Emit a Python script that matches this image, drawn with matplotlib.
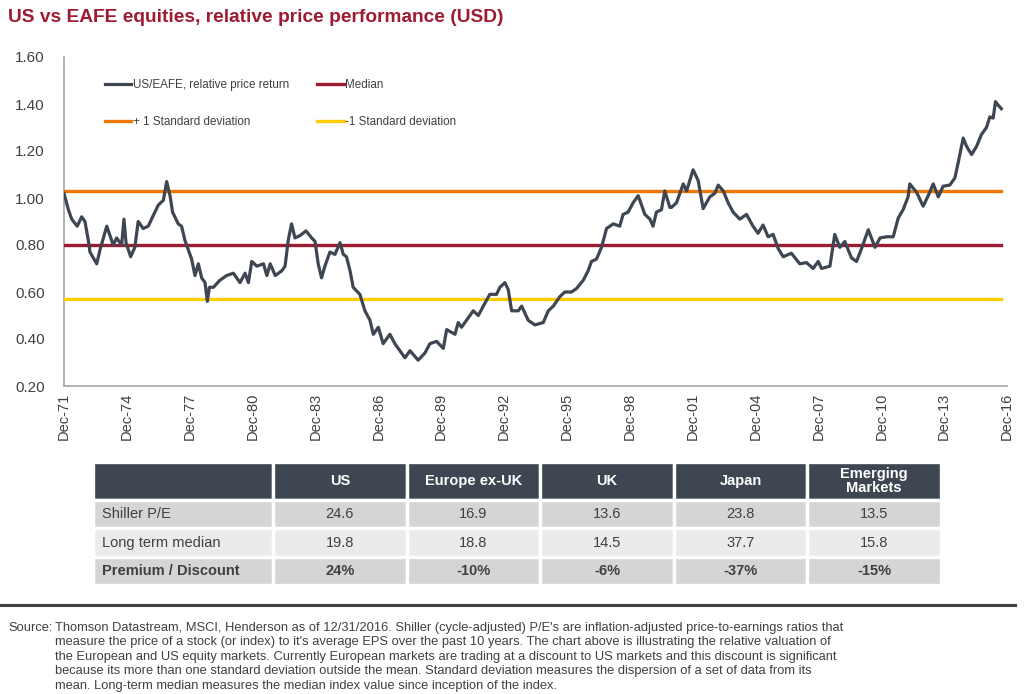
import matplotlib
matplotlib.use("Agg")
import matplotlib.pyplot as plt
from matplotlib.lines import Line2D

plt.rcParams["font.family"] = ["Liberation Sans", "DejaVu Sans"]

# relative price return, US/EAFE (decimal years)
years = [
    1971.92, 1972.13, 1972.29, 1972.55, 1972.76, 1972.92, 1973.08, 1973.16,
    1973.48, 1973.64, 1973.96, 1974.27, 1974.43, 1974.67, 1974.78, 1974.88,
    1975.10, 1975.30, 1975.46, 1975.70, 1975.94, 1976.15, 1976.42, 1976.66,
    1976.82, 1976.98, 1977.10, 1977.37, 1977.53, 1977.69, 1977.85, 1978.01,
    1978.17, 1978.33, 1978.49, 1978.65, 1978.76, 1978.86, 1979.05, 1979.36,
    1979.68, 1980.00, 1980.32, 1980.56, 1980.72, 1980.88, 1981.12, 1981.44,
    1981.60, 1981.76, 1982.00, 1982.31, 1982.47, 1982.62, 1982.78, 1982.94,
    1983.18, 1983.47, 1983.74, 1983.90, 1984.05, 1984.21, 1984.37, 1984.61,
    1984.85, 1985.09, 1985.25, 1985.40, 1985.57, 1985.72, 1986.04, 1986.28,
    1986.52, 1986.68, 1986.92, 1987.15, 1987.47, 1987.71, 1987.95, 1988.19,
    1988.43, 1988.82, 1989.14, 1989.38, 1989.70, 1990.02, 1990.18, 1990.58,
    1990.73, 1990.89, 1991.13, 1991.45, 1991.69, 1991.93, 1992.24, 1992.56,
    1992.72, 1992.96, 1993.12, 1993.28, 1993.60, 1993.76, 1994.07, 1994.39,
    1994.79, 1995.03, 1995.27, 1995.58, 1995.82, 1996.14, 1996.38, 1996.70,
    1996.93, 1997.09, 1997.33, 1997.57, 1997.81, 1998.13, 1998.44, 1998.60,
    1998.84, 1999.08, 1999.32, 1999.48, 1999.64, 1999.88, 2000.03, 2000.19,
    2000.43, 2000.59, 2000.83, 2000.91, 2001.15, 2001.47, 2001.63, 2001.94,
    2002.18, 2002.42, 2002.74, 2002.98, 2003.14, 2003.38, 2003.61, 2003.85,
    2004.17, 2004.49, 2004.80, 2005.04, 2005.28, 2005.52, 2005.76, 2006.00,
    2006.24, 2006.63, 2007.03, 2007.35, 2007.67, 2007.91, 2008.07, 2008.47,
    2008.70, 2008.94, 2009.18, 2009.50, 2009.74, 2009.98, 2010.30, 2010.62,
    2010.86, 2011.17, 2011.49, 2011.73, 2011.96, 2012.20, 2012.28, 2012.60,
    2012.92, 2013.16, 2013.40, 2013.64, 2013.87, 2014.19, 2014.43, 2014.59,
    2014.83, 2014.99, 2015.23, 2015.47, 2015.70, 2015.94, 2016.10, 2016.26,
    2016.37, 2016.50, 2016.65,
]
ratio = [
    1.02, 0.95, 0.91, 0.88, 0.92, 0.90, 0.82, 0.77,
    0.72, 0.78, 0.88, 0.80, 0.83, 0.80, 0.91, 0.81,
    0.75, 0.79, 0.90, 0.87, 0.88, 0.92, 0.97, 0.99,
    1.07, 1.01, 0.94, 0.89, 0.88, 0.82, 0.78, 0.74,
    0.67, 0.72, 0.66, 0.64, 0.56, 0.62, 0.62, 0.65,
    0.67, 0.68, 0.64, 0.68, 0.64, 0.73, 0.71, 0.72,
    0.67, 0.72, 0.67, 0.69, 0.71, 0.82, 0.89, 0.83,
    0.84, 0.86, 0.83, 0.815, 0.72, 0.66, 0.71, 0.77,
    0.76, 0.81, 0.76, 0.75, 0.69, 0.62, 0.59, 0.52,
    0.48, 0.42, 0.45, 0.38, 0.42, 0.38, 0.35, 0.32,
    0.35, 0.31, 0.34, 0.38, 0.39, 0.36, 0.44, 0.42,
    0.47, 0.45, 0.48, 0.52, 0.50, 0.54, 0.59, 0.59,
    0.62, 0.64, 0.61, 0.52, 0.52, 0.54, 0.48, 0.46,
    0.47, 0.52, 0.54, 0.58, 0.60, 0.60, 0.615, 0.65,
    0.69, 0.73, 0.74, 0.79, 0.87, 0.89, 0.88, 0.93,
    0.94, 0.98, 1.01, 0.97, 0.93, 0.91, 0.88, 0.94,
    0.95, 1.03, 0.96, 0.96, 0.98, 1.06, 1.03, 1.12,
    1.075, 0.955, 1.005, 1.02, 1.055, 1.03, 0.98, 0.94,
    0.91, 0.93, 0.88, 0.85, 0.885, 0.835, 0.845, 0.785,
    0.75, 0.765, 0.72, 0.725, 0.70, 0.73, 0.70, 0.71,
    0.845, 0.79, 0.815, 0.745, 0.73, 0.785, 0.865, 0.79,
    0.83, 0.835, 0.835, 0.915, 0.95, 1.005, 1.06, 1.025,
    0.965, 1.01, 1.06, 1.005, 1.05, 1.055, 1.085, 1.15,
    1.255, 1.22, 1.185, 1.22, 1.27, 1.30, 1.345, 1.34,
    1.41, 1.395, 1.38,
]
median_level = 0.80
plus_sd = 1.03
minus_sd = 0.57

tick_years = [1971.92 + 3 * i for i in range(16)]
tick_labels = [f"Dec-{(71 + 3 * i) % 100:02d}" for i in range(16)]
y_ticks = [0.20, 0.40, 0.60, 0.80, 1.00, 1.20, 1.40, 1.60]

col_labels = ["", "US", "Europe ex-UK", "UK", "Japan", "Emerging\nMarkets"]
row_labels = ["Shiller P/E", "Long term median", "Premium / Discount"]
shiller_pe = ["24.6", "16.9", "13.6", "23.8", "13.5"]
long_term_median = ["19.8", "18.8", "14.5", "37.7", "15.8"]
premium_discount = ["24%", "-10%", "-6%", "-37%", "-15%"]

TITLE_RED = "#9E1B32"
SLATE = "#3E4751"
TEXT = "#404040"

fig = plt.figure(figsize=(10.24, 6.94), dpi=100)
fig.text(0.008, 1 - 18 / 694, "US vs EAFE equities, relative price performance (USD)",
         color=TITLE_RED, fontsize=13.8, fontweight="bold", va="center", ha="left")

ax = fig.add_axes([64 / 1024, 1 - 386 / 694, (1007 - 64) / 1024, (386 - 57) / 694])
x_span = [years[0], years[-1]]
ax.plot(years, ratio, color=SLATE, lw=2.3, label="US/EAFE, relative price return",
        solid_joinstyle="round", zorder=4)
ax.plot(x_span, [plus_sd] * 2, color="#F07800", lw=2.4, label="+ 1 Standard deviation", zorder=3)
ax.plot(x_span, [median_level] * 2, color="#9B1B30", lw=2.4, label="Median", zorder=3)
ax.plot(x_span, [minus_sd] * 2, color="#FFCC00", lw=2.4, label="-1 Standard deviation", zorder=3)

ax.set_xlim(1971.92, 2016.92)
ax.set_ylim(0.2, 1.6)
ax.set_yticks(y_ticks)
ax.set_yticklabels([f"{v:.2f}" for v in y_ticks])
ax.set_xticks(tick_years)
ax.set_xticklabels(tick_labels, rotation=90)
ax.tick_params(axis="y", length=0, pad=14, labelsize=11, labelcolor=TEXT)
ax.tick_params(axis="x", length=0, pad=5, labelsize=10.5, labelcolor=TEXT)
for side in ("top", "right"):
    ax.spines[side].set_visible(False)
for side in ("left", "bottom"):
    ax.spines[side].set_color("#A6A6A6")
    ax.spines[side].set_linewidth(1.2)

leg = ax.legend(ncol=2, loc="upper left", bbox_to_anchor=(0.038, 0.948), frameon=False,
                fontsize=8.4, handlelength=2.3, handletextpad=0.1, columnspacing=2.4,
                labelspacing=2.2, borderaxespad=0)
for t in leg.get_texts():
    t.set_color(TEXT)

# valuation table
tax = fig.add_axes([93 / 1024, 1 - 585 / 694, (941 - 93) / 1024, (585 - 462) / 694])
tax.axis("off")
cells = [[row_labels[0]] + shiller_pe,
         [row_labels[1]] + long_term_median,
         [row_labels[2]] + premium_discount]
first_w = 180 / 848
other_w = (1 - first_w) / 5
tbl = tax.table(cellText=cells, colLabels=col_labels, bbox=[0, 0, 1, 1],
                colWidths=[first_w] + [other_w] * 5, cellLoc="center")
tbl.auto_set_font_size(False)
row_colors = ["#D4D5D7", "#EBEBEB", "#D4D5D7"]
for (r, c), cell in tbl.get_celld().items():
    cell.set_edgecolor("white")
    cell.set_linewidth(2.4)
    txt = cell.get_text()
    txt.set_fontsize(10.5)
    if r == 0:
        cell.set_facecolor(SLATE)
        cell.set_height(0.31)
        txt.set_color("white")
        txt.set_fontweight("bold")
        txt.set_linespacing(1.0)
    else:
        cell.set_facecolor(row_colors[r - 1])
        cell.set_height(0.23)
        txt.set_color(TEXT)
        if r == 3:
            txt.set_fontweight("bold")
        if c == 0:
            cell.set_text_props(ha="left")
            cell.PAD = 0.05

fig.add_artist(Line2D([0, 1015 / 1024], [1 - 605 / 694] * 2, color=TEXT, lw=2.2))

footer = ("Thomson Datastream, MSCI, Henderson as of 12/31/2016. Shiller (cycle-adjusted) P/E's are "
          "inflation-adjusted price-to-earnings ratios that\n"
          "measure the price of a stock (or index) to it's average EPS over the past 10 years. "
          "The chart above is illustrating the relative valuation of\n"
          "the European and US equity markets. Currently European markets are trading at a discount "
          "to US markets and this discount is significant\n"
          "because its more than one standard deviation outside the mean. Standard deviation measures "
          "the dispersion of a set of data from its\n"
          "mean. Long-term median measures the median index value since inception of the index.")
fig.text(8 / 1024, 1 - 622 / 694, "Source:", fontsize=9.3, color=TEXT, va="top")
fig.text(55 / 1024, 1 - 622 / 694, footer, fontsize=9.3, color=TEXT, va="top", linespacing=1.27)

fig.savefig("out.png", dpi=100)
